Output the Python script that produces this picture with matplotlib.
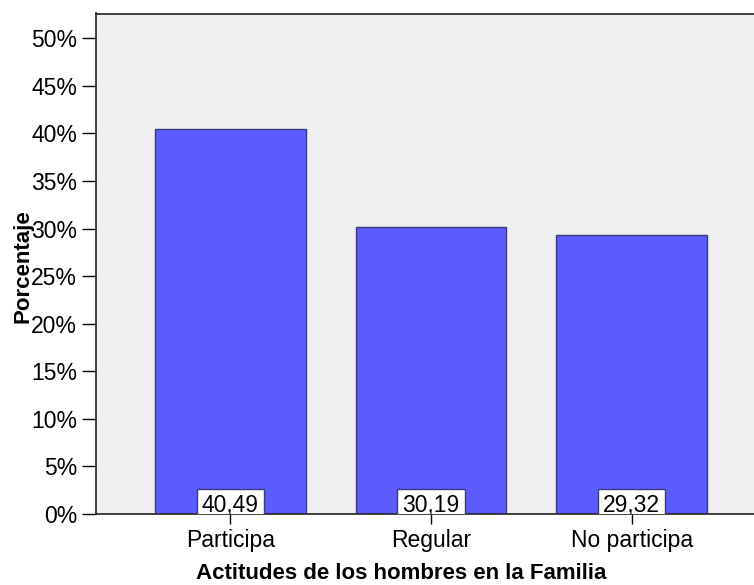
import matplotlib.pyplot as plt
import numpy as np

categorias = ['Participa', 'Regular', 'No participa']
porcentajes = [40.49, 30.19, 29.32]
etiquetas = ['40,49', '30,19', '29,32']

plt.rcParams['font.family'] = ['Liberation Sans', 'DejaVu Sans']

fig = plt.figure(figsize=(7.54, 5.85), dpi=100)
ax = fig.add_axes([96 / 754, 1 - 514 / 585, (754 - 96) / 754, (514 - 13.5) / 585])
ax.set_facecolor('#efefef')

x = np.arange(len(categorias))
ax.bar(x, porcentajes, width=0.75, color='#5b5bff', edgecolor='#3a3a80', linewidth=1, zorder=2)

# value boxes sitting on the axis (bottom part of the box clipped off)
for xi, txt in zip(x, etiquetas):
    ax.annotate(txt, xy=(xi, 0), xytext=(0, 1.5), textcoords='offset points',
                ha='center', va='baseline', fontsize=16.5, zorder=3, annotation_clip=False,
                clip_on=True,
                bbox=dict(boxstyle='square,pad=0.22', facecolor='white', edgecolor='#3a3a80', linewidth=1))

ax.set_xlim(-0.669, 2.61)
ax.set_ylim(0, 52.6)
ax.set_yticks(np.arange(0, 51, 5))
ax.set_yticklabels([f'{v}%' for v in range(0, 51, 5)])
ax.set_xticks(x)
ax.set_xticklabels(categorias)
ax.tick_params(axis='both', labelsize=16.5, color='black', width=1)
ax.tick_params(axis='y', length=10, pad=3.5)
ax.tick_params(axis='x', length=7, pad=4)

ax.spines['right'].set_visible(False)
for s in ['left', 'bottom', 'top']:
    ax.spines[s].set_color('#222222')
    ax.spines[s].set_linewidth(1.2)

ax.set_xlabel('Actitudes de los hombres en la Familia', fontsize=16, fontweight='bold')
ax.xaxis.set_label_coords(0.464, -0.098)
ax.set_ylabel('Porcentaje', fontsize=16, fontweight='bold')
ax.yaxis.set_label_coords(-0.0957, 0.4955)

fig.savefig('out.png', dpi=100)
